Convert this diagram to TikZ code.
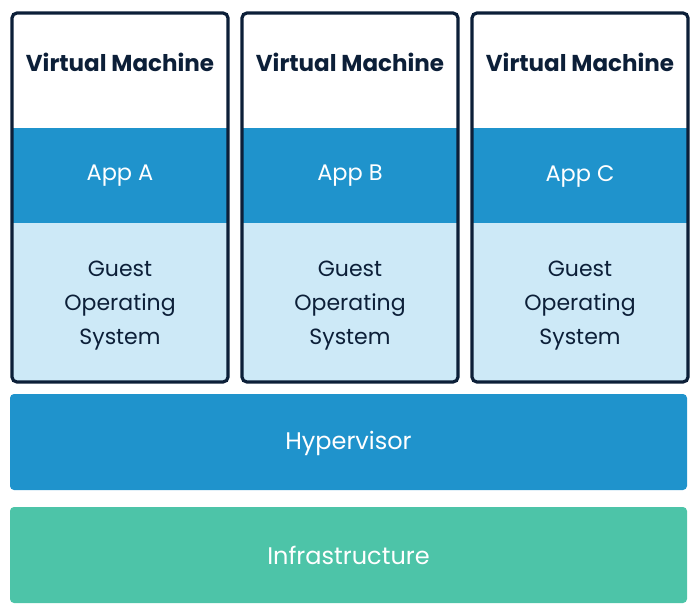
\documentclass[tikz,border=0pt]{standalone}
\usepackage{fontspec}
\setmainfont{Poppins}
\definecolor{navy}{HTML}{0C1F38}
\definecolor{appblue}{HTML}{1F93CC}
\definecolor{guestblue}{HTML}{CDE9F7}
\definecolor{hyperblue}{HTML}{1F93CC}
\definecolor{infragreen}{HTML}{4DC4A8}
\tikzset{
  vmtitle/.style={text=navy,font=\fontsize{23}{30}\selectfont\bfseries,inner sep=0pt},
  apptext/.style={text=white,font=\fontsize{22.5}{30}\selectfont,inner sep=0pt},
  guesttext/.style={text=navy,font=\fontsize{22}{34}\selectfont,align=center,inner sep=0pt},
  layertext/.style={text=white,font=\fontsize{24}{30}\selectfont,inner sep=0pt},
  vmborder/.style={draw=navy,line width=3.2pt,rounded corners=5pt},
}
\begin{document}
\begin{tikzpicture}[x=1pt,y=-1pt]
\useasboundingbox (0,0) rectangle (696,614);
\foreach \x/\l [count=\i] in {12/A,242/B,472/C} {
  \begin{scope}
    \clip[rounded corners=5pt] (\x,13) rectangle ++(216,369);
    \fill[white] (\x,13) rectangle ++(216,115);
    \fill[appblue] (\x,128) rectangle ++(216,95);
    \fill[guestblue] (\x,223) rectangle ++(216,159);
  \end{scope}
  \draw[vmborder] (\x,13) rectangle ++(216,369);
  \node[vmtitle] (vm\i) at (\x+108,62) {Virtual Machine};
  \node[apptext] (app\i) at (\x+108,176) {App \l};
  \node[guesttext] (os\i) at (\x+108,306) {Guest\\Operating\\System};
}
\fill[hyperblue,rounded corners=4pt] (10,394) rectangle (687,490);
\node[layertext] (hyper) at (348.5,443) {Hypervisor};
\fill[infragreen,rounded corners=4pt] (10,507) rectangle (687,603);
\node[layertext] (infra) at (348.5,555) {Infrastructure};
\end{tikzpicture}
\end{document}
